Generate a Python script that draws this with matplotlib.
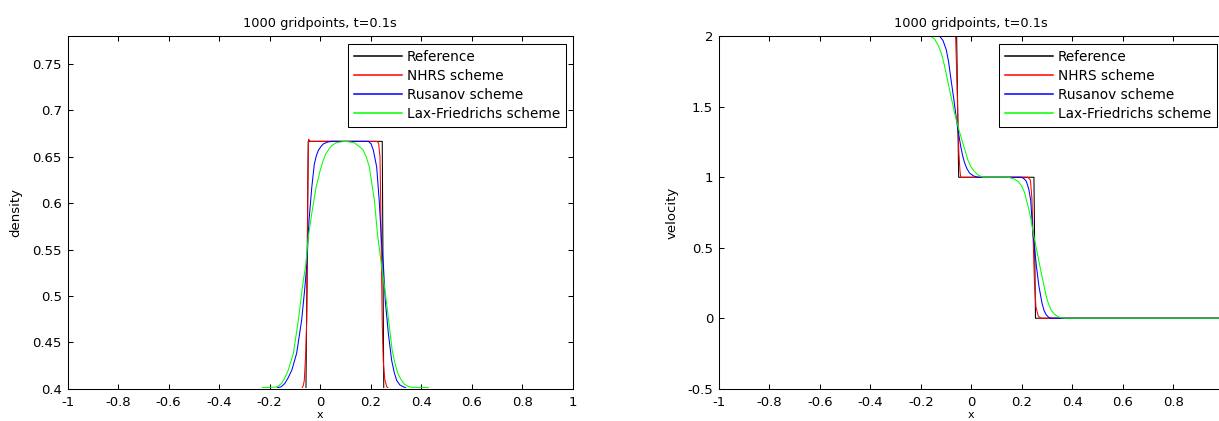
import matplotlib
matplotlib.use("Agg")
import matplotlib.pyplot as plt
from matplotlib.patches import Rectangle

plt.rcParams['font.family'] = ['DejaVu Sans']
plt.rcParams['font.size'] = 9.5

TITLE = "1000 gridpoints, t=0.1s"
LABELS = ["Reference", "NHRS scheme", "Rusanov scheme", "Lax-Friedrichs scheme"]
COLORS = ["#000000", "#ff0000", "#0000ff", "#00ff00"]

# ---- density, t = 0.1 ----
rho_ref_x = [-1.0, -0.056, -0.047, 0.240, 0.246, 0.252, 1.0]
rho_ref_y = [0.4, 0.4, 0.6667, 0.6667, 0.6667, 0.4, 0.4]

rho_nhrs_x = [-1.0, -0.073, -0.067, -0.0625, -0.057, -0.053, -0.050, -0.049, -0.047,
              -0.0455, -0.042, -0.039, 0.222, 0.228, 0.232, 0.237, 0.240, 0.243, 0.246,
              0.250, 0.256, 0.264, 0.272, 1.0]
rho_nhrs_y = [0.4, 0.4, 0.403, 0.409, 0.438, 0.474, 0.533, 0.600, 0.653,
              0.669, 0.6675, 0.6668, 0.6667, 0.6662, 0.664, 0.650, 0.600, 0.533, 0.470,
              0.430, 0.410, 0.402, 0.4, 0.4]

rho_rus_x = [-1.0, -0.172, -0.168, -0.155, -0.146, -0.139, -0.126, -0.112, -0.093,
             -0.073, -0.060, -0.053, -0.044, -0.033, -0.023, -0.015, -0.007, 0.003,
             0.013, 0.030, 0.046, 0.191, 0.202, 0.211, 0.224, 0.234, 0.244, 0.251,
             0.258, 0.270, 0.283, 0.293, 0.303, 0.316, 0.330, 0.338, 0.342, 1.0]
rho_rus_y = [0.4, 0.4, 0.4012, 0.402, 0.404, 0.406, 0.412, 0.420, 0.438,
             0.474, 0.510, 0.533, 0.581, 0.617, 0.642, 0.651, 0.657, 0.661,
             0.664, 0.666, 0.6667, 0.6667, 0.664, 0.657, 0.639, 0.603, 0.555, 0.531,
             0.495, 0.460, 0.431, 0.418, 0.409, 0.404, 0.402, 0.4012, 0.4, 0.4]

rho_lf_x = [-1.0, -0.232, -0.228, -0.190, -0.172, -0.162, -0.152, -0.139, -0.126,
            -0.106, -0.086, -0.070, -0.057, -0.047, -0.033, -0.016, 0.000, 0.011,
            0.022, 0.034, 0.046, 0.062, 0.079, 0.100, 0.120, 0.137, 0.150, 0.161,
            0.171, 0.184, 0.195, 0.215, 0.227, 0.244, 0.257, 0.270, 0.285, 0.296,
            0.307, 0.320, 0.333, 0.348, 0.362, 0.428, 0.432, 1.0]
rho_lf_y = [0.4, 0.4, 0.4012, 0.4015, 0.402, 0.4035, 0.406, 0.412, 0.420,
            0.438, 0.474, 0.510, 0.533, 0.563, 0.589, 0.617, 0.635, 0.645,
            0.653, 0.658, 0.662, 0.665, 0.666, 0.6667, 0.666, 0.665, 0.662, 0.660,
            0.657, 0.649, 0.639, 0.603, 0.567, 0.531, 0.506, 0.477, 0.442, 0.428,
            0.417, 0.410, 0.405, 0.4025, 0.4015, 0.4012, 0.4, 0.4]

# ---- velocity, t = 0.1 ----
u_ref_x = [-1.0, -0.058, -0.050, 0.248, 0.254, 1.0]
u_ref_y = [2.0, 2.0, 1.0, 1.0, 0.0, 0.0]

u_nhrs_x = [-1.0, -0.062, -0.058, -0.055, -0.053, -0.049, -0.045, -0.042, 0.224,
            0.234, 0.240, 0.245, 0.250, 0.256, 0.265, 0.277, 1.0]
u_nhrs_y = [2.0, 2.0, 1.75, 1.55, 1.36, 1.17, 1.05, 1.0, 1.0,
            0.98, 0.85, 0.55, 0.25, 0.08, 0.015, 0.0, 0.0]

u_rus_x = [-1.0, -0.125, -0.112, -0.099, -0.090, -0.082, -0.069, -0.055, -0.042,
           -0.034, -0.026, -0.017, -0.007, 0.008, 0.026, 0.198, 0.209, 0.218, 0.227,
           0.235, 0.244, 0.251, 0.258, 0.268, 0.280, 0.288, 0.297, 0.306, 0.316, 1.0]
u_rus_y = [2.0, 2.0, 1.97, 1.904, 1.82, 1.715, 1.55, 1.36, 1.22,
           1.15, 1.10, 1.06, 1.03, 1.01, 1.0, 1.0, 0.99, 0.97, 0.92,
           0.84, 0.60, 0.484, 0.366, 0.224, 0.106, 0.055, 0.023, 0.007, 0.0, 0.0]

u_lf_x = [-1.0, -0.161, -0.145, -0.129, -0.117, -0.106, -0.086, -0.066, -0.049,
          -0.033, -0.023, -0.013, 0.000, 0.013, 0.028, 0.046, 0.145, 0.167, 0.185,
          0.199, 0.211, 0.231, 0.248, 0.264, 0.280, 0.297, 0.306, 0.316, 0.328,
          0.343, 0.355, 0.369, 1.0]
u_lf_y = [2.0, 2.0, 1.98, 1.93, 1.87, 1.79, 1.62, 1.455, 1.336,
          1.24, 1.18, 1.12, 1.07, 1.04, 1.015, 1.0, 1.0, 0.99, 0.97,
          0.94, 0.89, 0.75, 0.58, 0.437, 0.295, 0.153, 0.100, 0.058, 0.030,
          0.011, 0.004, 0.0, 0.0]

x_ticks = [-1, -0.8, -0.6, -0.4, -0.2, 0, 0.2, 0.4, 0.6, 0.8, 1]
x_ticklabels = ["-1", "-0.8", "-0.6", "-0.4", "-0.2", "0", "0.2", "0.4", "0.6", "0.8", "1"]
rho_ticks = [0.4, 0.45, 0.5, 0.55, 0.6, 0.65, 0.7, 0.75]
rho_ticklabels = ["0.4", "0.45", "0.5", "0.55", "0.6", "0.65", "0.7", "0.75"]
u_ticks = [-0.5, 0, 0.5, 1, 1.5, 2]
u_ticklabels = ["-0.5", "0", "0.5", "1", "1.5", "2"]

W, H = 1219, 421
fig = plt.figure(figsize=(W / 100, H / 100), dpi=100)
left_px, right_px = 67.5, 718.7
ax_w, ax_top, ax_bot = 505.2, 36.3, 388.7
ax_h = ax_bot - ax_top
ax1 = fig.add_axes([left_px / W, 1 - ax_bot / H, ax_w / W, ax_h / H])
ax2 = fig.add_axes([right_px / W, 1 - ax_bot / H, ax_w / W, ax_h / H])


def style(ax, yticks, yticklabels, ylim, ylabel, ylabelpad, xlabels):
    ax.set_xlim(-1, 1)
    ax.set_ylim(*ylim)
    ax.set_xticks(x_ticks)
    ax.set_xticklabels(xlabels)
    ax.set_yticks(yticks)
    ax.set_yticklabels(yticklabels)
    ax.tick_params(direction="in", length=3.8, width=0.75, top=True, right=True,
                   labelsize=9.5, pad=4)
    ax.tick_params(axis="x", pad=5)
    for s in ax.spines.values():
        s.set_linewidth(0.75)
        s.set_zorder(3)
    ax.set_title(TITLE, fontsize=9.3, pad=7)
    ax.set_xlabel("x", fontsize=8, labelpad=1)
    ax.set_ylabel(ylabel, fontsize=9.5, labelpad=ylabelpad)
    leg = ax.legend(loc="upper right", bbox_to_anchor=(0.986, 0.978),
                    borderaxespad=0, fancybox=False, edgecolor="black",
                    handlelength=3.5, handletextpad=0.35, labelspacing=0.37,
                    borderpad=0.43, fontsize=9.8, framealpha=1)
    leg.get_frame().set_linewidth(0.75)
    leg.set_zorder(5)
    for h in leg.get_lines():
        h.set_linewidth(1.1)


def draw(ax, series):
    # curves sit just inside the frame, so the frame covers values on the limits
    inset = 0.9 / ax_h
    clip = Rectangle((0, inset), 1, 1 - 2 * inset, transform=ax.transAxes,
                     facecolor="none", edgecolor="none")
    ax.add_patch(clip)
    for (xs, ys), c, lab in zip(series, COLORS, LABELS):
        line, = ax.plot(xs, ys, color=c, lw=0.75, label=lab)
        line.set_clip_path(clip)


draw(ax1, [(rho_ref_x, rho_ref_y), (rho_nhrs_x, rho_nhrs_y),
           (rho_rus_x, rho_rus_y), (rho_lf_x, rho_lf_y)])
style(ax1, rho_ticks, rho_ticklabels, (0.4, 0.78), "density", 7.5, x_ticklabels)

draw(ax2, [(u_ref_x, u_ref_y), (u_nhrs_x, u_nhrs_y),
           (u_rus_x, u_rus_y), (u_lf_x, u_lf_y)])
# the right panel's last x label lies past the figure edge
style(ax2, u_ticks, u_ticklabels, (-0.5, 2), "velocity", 6, x_ticklabels[:-1] + [""])

fig.savefig("out.png", dpi=100)
